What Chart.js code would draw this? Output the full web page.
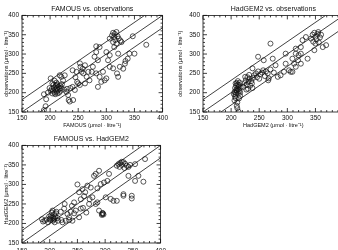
<!DOCTYPE html>
<html>
<head>
<meta charset="utf-8">
<script src="https://cdn.jsdelivr.net/npm/chart.js@4.4.0/dist/chart.umd.min.js"></script>
<style>
    html, body { margin: 0; padding: 0; background: #fff; width: 338px; height: 250px; overflow: hidden; position: relative; }
    canvas { position: absolute; }
</style>
</head>
<body>
<canvas id="famObs" width="170" height="130" style="left:0;top:0"></canvas>
<canvas id="hadObs" width="176" height="130" style="left:175px;top:0"></canvas>
<canvas id="famHad" width="170" height="131" style="left:0;top:130px"></canvas>
<script>
// axis range / ticks (umol per litre)
const axisMin = 150, axisMax = 400, majorStep = 50, minorStep = 10;

// 1:1 line and the +/-32 band, as end points
const refUpper = [[150, 182], [368, 400]];
const refMid = [[150, 150], [400, 400]];
const refLower = [[182, 150], [400, 368]];

// FAMOUS (x) vs observations (y)
const famousVsObs = [
    [203,210],[205,205],[207,213],[208,200],[210,208],[210,218],[212,203],[212,212],[213,222],[214,207],
    [215,215],[216,200],[217,210],[218,218],[219,205],[220,212],[221,222],[206,220],[209,196],[211,226],
    [204,198],[201,205],[199,212],[213,198],[208,231],[204,224],[211,220],
    [189,155],[193,183],[189,196],[192,165],[196,200],
    [226,245],[220,241],[223,232],[229,202],[232,194],[233,181],[241,181],[235,177],[244,207],[201,237],
    [217,245],[225,208],[230,210],[236,212],[240,215],
    [240,258],[247,254],[253,276],[254,267],[256,254],[259,250],[250,224],[253,220],[262,224],[265,241],
    [268,254],[274,254],[276,267],[279,293],[282,305],[288,318],[285,284],[282,250],[288,241],[294,254],
    [291,228],[285,215],[297,232],[300,237],[306,267],[303,284],[306,297],[312,263],[319,250],[324,267],
    [321,301],[333,275],[341,301],[327,331],[282,320],[300,305],[258,262],[262,271],[245,240],[270,232],[248,228],
    [306,340],[310,348],[312,355],[315,352],[318,357],[320,346],[322,340],[316,336],[312,331],[318,327],
    [325,335],[314,344],[371,324],[350,301],[334,282],[347,346],[321,241],[330,262],[338,288],[314,318]
];

// HadGEM2 (x) vs observations (y)
const hadgemVsObs = [
    [206,180],[207,190],[208,195],[209,200],[210,205],[211,210],[212,198],[213,215],[214,220],[215,205],
    [216,192],[207,212],[209,218],[210,225],[212,230],[214,185],[208,186],[211,175],[206,202],[213,208],
    [215,226],[217,214],[205,196],[209,207],[211,160],[213,151],[210,166],[216,200],[212,221],[208,224],
    [222,215],[224,225],[226,232],[228,220],[229,240],[230,210],[231,228],[233,236],[234,218],[236,230],
    [237,224],[239,238],[225,241],[232,246],[238,212],[227,208],
    [238,263],[241,245],[244,250],[246,240],[248,255],[250,236],[252,248],[255,252],[257,258],[260,243],
    [262,255],[265,250],[267,237],[258,284],[248,293],[270,327],[274,288],[279,271],[283,241],[288,245],
    [294,254],[297,275],[303,258],[306,254],[309,254],[309,288],[315,301],[315,267],[324,275],[336,288],
    [324,318],[297,301],[312,275],[319,284],[320,297],[324,301],[270,260],[276,252],[266,232],
    [342,340],[345,350],[348,355],[350,345],[352,338],[354,352],[356,330],[358,343],[360,350],[346,332],
    [350,327],[355,357],[369,323],[363,318],[348,310],[327,336],[333,344],[315,314]
];

// FAMOUS (x) vs HadGEM2 (y)
const famousVsHadgem = [
    [188,205],[191,207],[197,203],[201,209],[206,207],[209,203],[215,207],[221,209],[223,203],[229,207],
    [235,209],[241,207],[194,210],[186,211],
    [200,212],[202,220],[204,228],[206,215],[208,224],[210,218],[212,230],[214,214],[205,233],[209,212],
    [203,215],[211,226],[199,218],[207,210],
    [227,250],[232,224],[235,216],[247,233],[253,216],[244,254],[253,280],[259,288],[268,297],[280,322],
    [283,327],[277,267],[271,250],[283,250],[286,254],[289,233],[295,224],[296,226],[294,222],[297,223],
    [295,227],[292,301],[298,305],[304,309],[301,267],[310,263],[315,258],[321,258],[333,271],[333,275],
    [342,322],[354,309],[307,327],[289,335],[220,230],[226,238],[238,230],[240,245],[256,262],[262,270],
    [250,300],[264,280],[274,292],[286,290],[260,240],[266,228],[272,262],[244,226],[256,238],
    [321,348],[324,352],[327,355],[330,350],[333,357],[336,353],[339,348],[342,345],[326,345],[330,358],
    [345,350],[335,342],[372,365],[354,352],[360,322],[369,307],[348,271],[348,264]
];

Chart.defaults.font.family = '"Liberation Sans", Arial, sans-serif';
Chart.defaults.color = '#111';

// box round the plot with IDL style inward ticks on all four sides
const framePlugin = {
    id: 'frame',
    afterDatasetsDraw(chart) {
        const { ctx, chartArea: a, scales: { x, y } } = chart;
        ctx.save();
        ctx.strokeStyle = '#111';
        ctx.lineWidth = 0.8;
        ctx.strokeRect(a.left, a.top, a.right - a.left, a.bottom - a.top);
        ctx.beginPath();
        for (let v = axisMin; v <= axisMax; v += minorStep) {
            const len = v % majorStep === 0 ? 4 : 2;
            const px = x.getPixelForValue(v);
            ctx.moveTo(px, a.bottom); ctx.lineTo(px, a.bottom - len);
            ctx.moveTo(px, a.top); ctx.lineTo(px, a.top + len);
            const py = y.getPixelForValue(v);
            ctx.moveTo(a.left, py); ctx.lineTo(a.left + len, py);
            ctx.moveTo(a.right, py); ctx.lineTo(a.right - len, py);
        }
        ctx.stroke();
        ctx.restore();
    }
};

function refLine(pts) {
    return {
        type: 'line',
        data: pts.map(p => ({ x: p[0], y: p[1] })),
        borderColor: '#111',
        borderWidth: 0.8,
        pointRadius: 0,
        fill: false,
        tension: 0
    };
}

function axis(text, titlePad) {
    return {
        type: 'linear',
        min: axisMin,
        max: axisMax,
        grid: { display: false, drawTicks: false },
        border: { display: false },
        ticks: { stepSize: majorStep, font: { size: 6.5 }, padding: 3, maxRotation: 0 },
        title: { display: true, text, font: { size: 5.5 }, padding: { top: titlePad, bottom: 0 } }
    };
}

function makePanel(id, title, xTitle, yTitle, points, opts) {
    const xScale = axis(xTitle, 3);
    xScale.ticks.padding = opts.xTickPad;
    xScale.afterFit = s => { s.height = 17; };
    const yScale = axis(yTitle, opts.yTitlePad);
    yScale.afterFit = s => { s.width = opts.yWidth; };

    new Chart(document.getElementById(id), {
        type: 'scatter',
        data: {
            datasets: [
                {
                    data: points.map(p => ({ x: p[0], y: p[1] })),
                    pointStyle: 'circle',
                    pointRadius: 2.5,
                    pointBorderWidth: 0.7,
                    pointBorderColor: '#111',
                    pointBackgroundColor: 'rgba(0,0,0,0)'
                },
                refLine(refUpper),
                refLine(refMid),
                refLine(refLower)
            ]
        },
        options: {
            responsive: false,
            animation: false,
            layout: { padding: { left: 0, right: 7, top: 0, bottom: 1 } },
            scales: { x: xScale, y: yScale },
            plugins: {
                legend: { display: false },
                tooltip: { enabled: false },
                title: {
                    display: true,
                    text: title,
                    fullSize: false,
                    color: '#111',
                    font: { size: 7, weight: 'normal' },
                    padding: { top: 5, bottom: 2 }
                }
            }
        },
        plugins: [framePlugin]
    });
}

const unit = ' (μmol · litre⁻¹)';
makePanel('famObs', 'FAMOUS vs. observations', 'FAMOUS' + unit, 'observations' + unit, famousVsObs,
    { yWidth: 22, yTitlePad: 3, xTickPad: 2 });
makePanel('hadObs', 'HadGEM2 vs. observations', 'HadGEM2' + unit, 'observations' + unit, hadgemVsObs,
    { yWidth: 28, yTitlePad: 2, xTickPad: 2 });
makePanel('famHad', 'FAMOUS vs. HadGEM2', 'FAMOUS' + unit, 'HadGEM2' + unit, famousVsHadgem,
    { yWidth: 22, yTitlePad: 3, xTickPad: 4 });
</script>
</body>
</html>
